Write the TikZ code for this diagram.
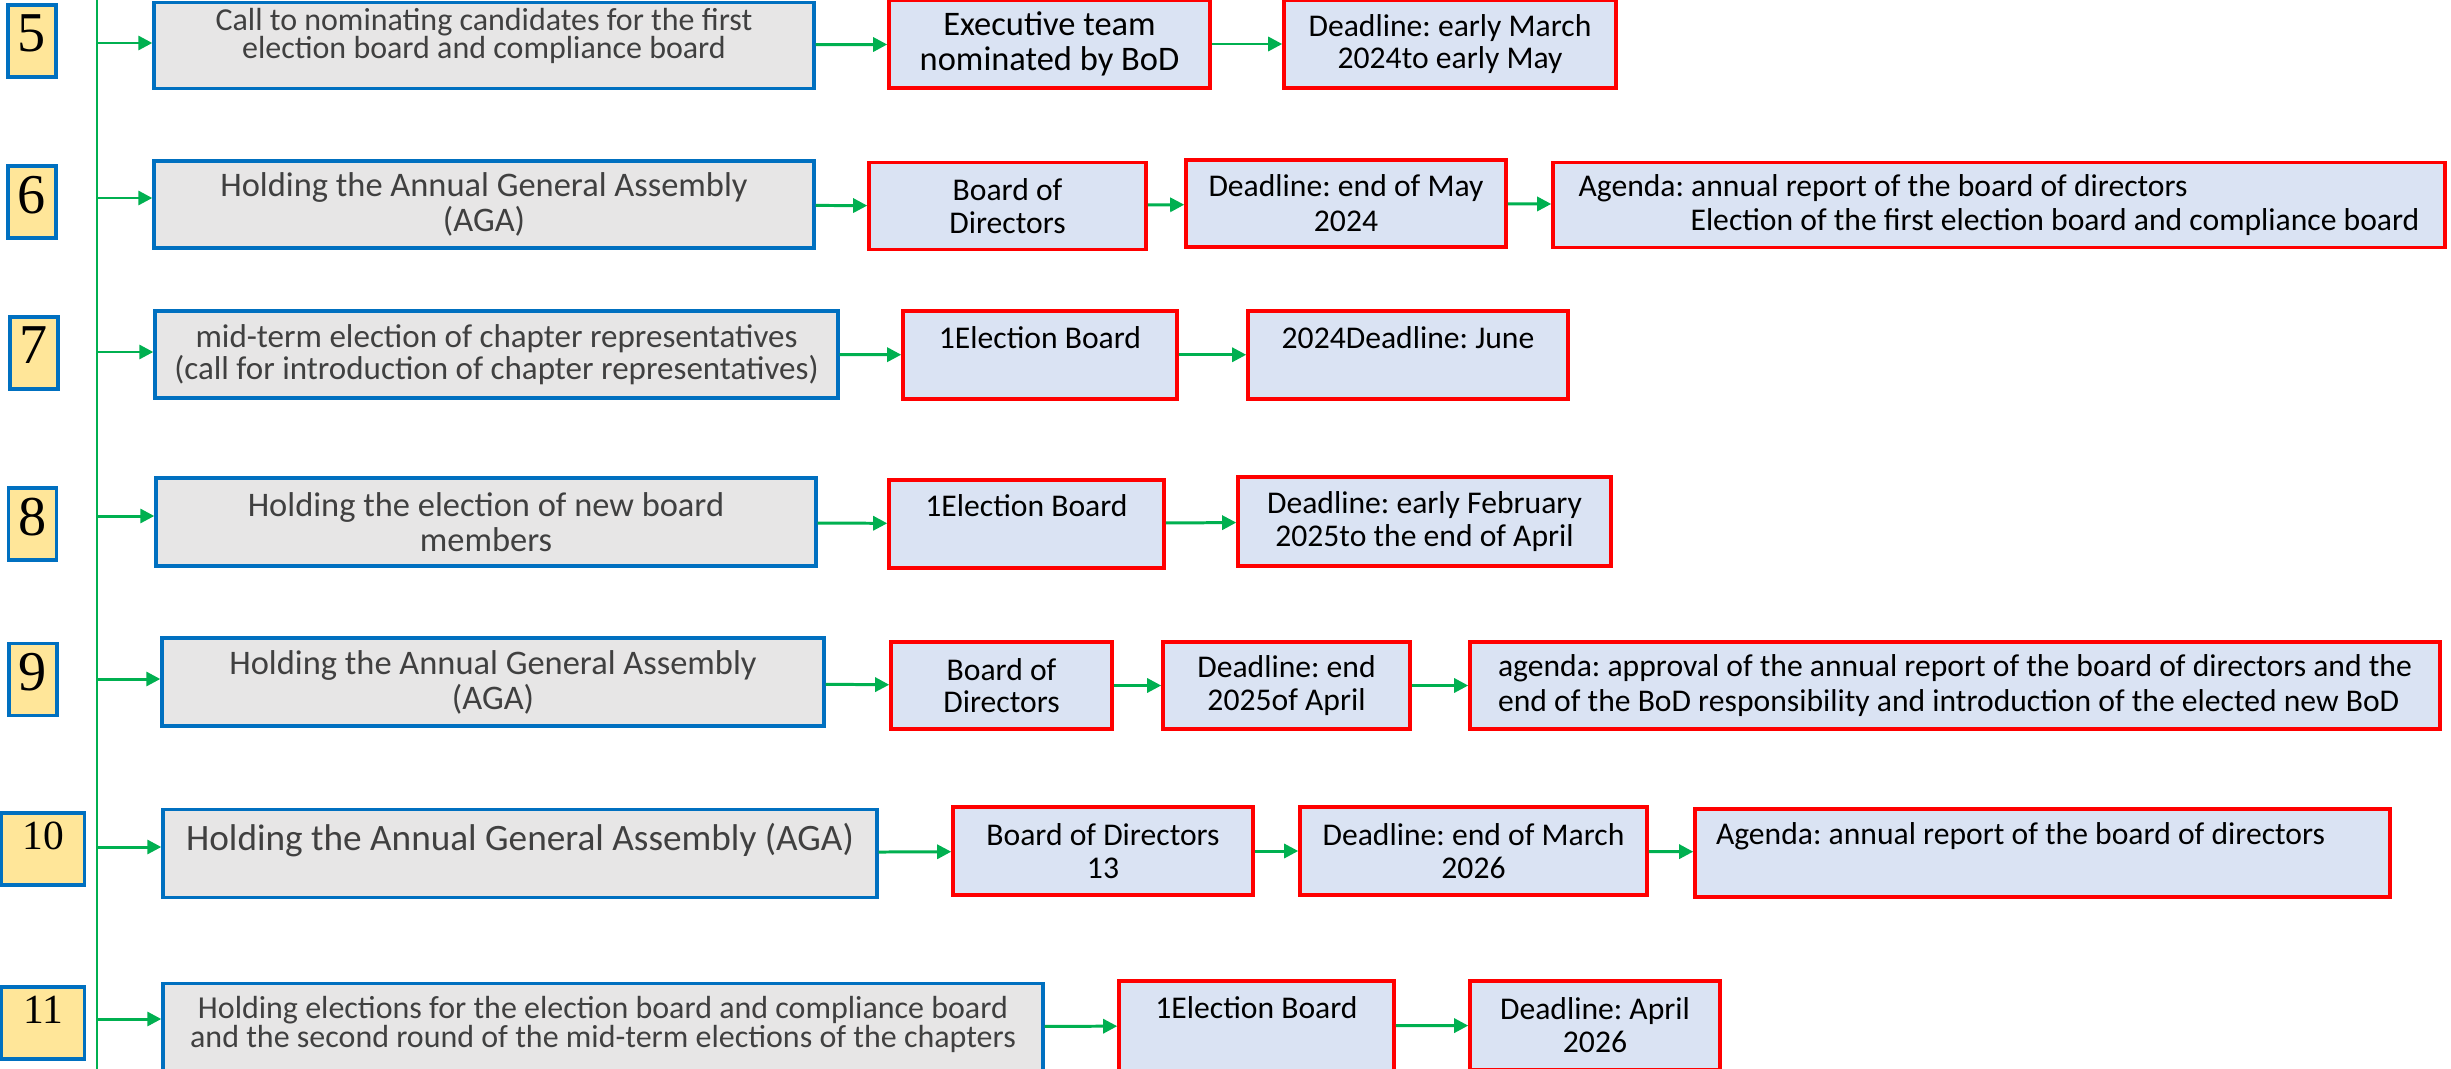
\documentclass[tikz,border=0pt]{standalone}
\usepackage{fontspec}
\setmainfont{Carlito}
\newfontfamily\numfont{Liberation Serif}
\usepackage{tikz}
\usetikzlibrary{arrows.meta,positioning,calc}
\frenchspacing
\definecolor{tlBlue}{HTML}{0070C0}
\definecolor{tlRed}{HTML}{FF0000}
\definecolor{tlGreen}{HTML}{00B050}
\definecolor{tlYellow}{HTML}{FFE699}
\definecolor{tlGray}{HTML}{E7E6E6}
\definecolor{tlLight}{HTML}{DAE3F3}
\definecolor{tlText}{HTML}{404040}
\newcommand\fs[2]{\fontsize{#1pt}{#2pt}\selectfont}
\tikzset{
  numbox/.style={
    draw=tlBlue, line width=0.9pt, fill=tlYellow, inner sep=0pt,
    minimum width=0.48cm, minimum height=0.72cm,
    font=\numfont\fs{16}{16}, text depth=0.15cm
  },
  numwide/.style={numbox, minimum width=0.83cm, font=\numfont\fs{11.8}{12}, text depth=0.27cm},
  stepbox/.style={
    draw=tlBlue, line width=0.95pt, fill=tlGray, text=tlText,
    align=center, inner sep=0pt, font=\fs{9.8}{10}
  },
  taskbox/.style={
    draw=tlRed, line width=1pt, fill=tlLight, text=black,
    align=center, inner sep=0pt, font=\fs{9}{9.2}
  },
  toptext/.style 2 args={text height=#1, text depth=#2, inner ysep=0pt, align=flush center},
  flow/.style={-{Triangle[length=4pt, width=4pt]}, line width=0.85pt, tlGreen},
  trunk/.style={line width=0.85pt, tlGreen}
}

\begin{document}
\begin{tikzpicture}
  \useasboundingbox (0,0) rectangle (24.51,-10.68);
  \coordinate (ttop) at (0.97,0.05);
  \coordinate (tbot) at (0.97,-10.75);
  \draw[trunk] (ttop) -- (tbot);

  \node[numbox] (n5) at (0.32,-0.41) {5};
  \node[numbox] (n6) at (0.32,-2.02) {6};
  \node[numbox] (n7) at (0.34,-3.53) {7};
  \node[numbox] (n8) at (0.325,-5.24) {8};
  \node[numbox] (n9) at (0.33,-6.795) {9};
  \node[numwide] (n10) at (0.43,-8.49) {10};
  \node[numwide] (n11) at (0.43,-10.23) {11};

  \node[stepbox, toptext={0.28cm}{0.58cm}, text width=6.60cm, font=\fs{9.1}{8}, anchor=north] (g5) at (4.84,-0.01) {Call to nominating candidates for the first\\election board and compliance board};
  \node[stepbox, minimum width=6.60cm, minimum height=0.87cm] (g6) at (4.84,-2.045) {Holding the Annual General Assembly\\(AGA)};
  \node[stepbox, minimum width=6.83cm, minimum height=0.87cm, font=\fs{9.4}{9.2}] (g7) at (4.965,-3.545) {mid-term election of chapter representatives\\(call for introduction of chapter representatives)};
  \node[stepbox, minimum width=6.60cm, minimum height=0.88cm] (g8) at (4.86,-5.22) {Holding the election of new board\\members};
  \node[stepbox, minimum width=6.62cm, minimum height=0.88cm] (g9) at (4.93,-6.82) {Holding the Annual General Assembly\\(AGA)};
  \node[stepbox, toptext={0.41cm}{0.47cm}, text width=7.14cm, font=\fs{10.6}{11}, anchor=north] (g10) at (5.20,-8.08) {Holding the Annual General Assembly (AGA)};
  \node[stepbox, toptext={0.35cm}{0.53cm}, text width=8.80cm, font=\fs{9.1}{8.1}, anchor=north] (g11) at (6.03,-9.82) {Holding elections for the election board and compliance board\\and the second round of the mid-term elections of the chapters};

  \node[taskbox, minimum width=3.21cm, minimum height=0.88cm, font=\fs{9.8}{10}] (r5a) at (10.495,-0.44) {Executive team\\nominated by BoD};
  \node[taskbox, minimum width=3.32cm, minimum height=0.88cm] (r5b) at (14.50,-0.44) {Deadline: early March\\2024to early May};
  \node[taskbox, minimum width=2.77cm, minimum height=0.87cm] (r6a) at (10.075,-2.06) {Board of\\Directors};
  \node[taskbox, minimum width=3.20cm, minimum height=0.87cm, font=\fs{9}{10}] (r6b) at (13.46,-2.035) {Deadline: end of May\\2024};
  \node[taskbox, minimum width=8.92cm, minimum height=0.85cm, align=left, font=\fs{9}{9.6}] (r6c) at (19.99,-2.05) {Agenda: annual report of the board of directors\\\hspace*{1.12cm}Election of the first election board and compliance board};
  \node[taskbox, toptext={0.38cm}{0.50cm}, text width=2.74cm, anchor=north] (r7a) at (10.40,-3.09) {1Election Board};
  \node[taskbox, toptext={0.38cm}{0.50cm}, text width=3.20cm, anchor=north] (r7b) at (14.08,-3.09) {2024Deadline: June};
  \node[taskbox, toptext={0.37cm}{0.51cm}, text width=2.75cm, anchor=north] (r8a) at (10.265,-4.78) {1Election Board};
  \node[taskbox, minimum width=3.73cm, minimum height=0.89cm, font=\fs{9}{9.4}] (r8b) at (14.245,-5.215) {Deadline: early February\\2025to the end of April};
  \node[taskbox, minimum width=2.21cm, minimum height=0.87cm] (r9a) at (10.015,-6.855) {Board of\\Directors};
  \node[taskbox, minimum width=2.47cm, minimum height=0.87cm] (r9b) at (12.865,-6.855) {Deadline: end\\2025of April};
  \node[taskbox, minimum width=9.70cm, minimum height=0.87cm, align=left, font=\fs{9}{9.8}] (r9c) at (19.55,-6.855) {agenda: approval of the annual report of the board of directors and the\\end of the BoD responsibility and introduction of the elected new BoD};
  \node[taskbox, minimum width=3.00cm, minimum height=0.88cm] (r10a) at (11.03,-8.51) {Board of Directors\\13};
  \node[taskbox, minimum width=3.47cm, minimum height=0.88cm, font=\fs{9}{9.6}] (r10b) at (14.735,-8.51) {Deadline: end of March\\2026};
  \node[taskbox, toptext={0.36cm}{0.52cm}, align=flush left, text width=6.53cm, minimum width=6.95cm, anchor=north] (r10c) at (20.425,-8.07) {Agenda: annual report of the board of directors};
  \node[taskbox, toptext={0.38cm}{0.52cm}, text width=2.75cm, anchor=north] (r11a) at (12.565,-9.79) {1Election Board};
  \node[taskbox, minimum width=2.50cm, minimum height=0.89cm, font=\fs{9}{9.4}] (r11b) at (15.95,-10.255) {Deadline: April\\2026};

  \foreach \r/\y in {5/0.43,6/1.98,7/3.52,8/5.16,9/6.79,10/8.47,11/10.19}{
    \coordinate (t\r) at (0.97,-\y);
    \draw[flow] (t\r) -- (t\r -| g\r.west);
  }
  \foreach \a/\b in {g5/r5a,r5a/r5b,g6/r6a,r6a/r6b,r6b/r6c,g7/r7a,r7a/r7b,g8/r8a,r8a/r8b,
    g9/r9a,r9a/r9b,r9b/r9c,g10/r10a,r10a/r10b,r10b/r10c,g11/r11a,r11a/r11b}
    \draw[flow] (\a) -- (\b);
\end{tikzpicture}
\end{document}
